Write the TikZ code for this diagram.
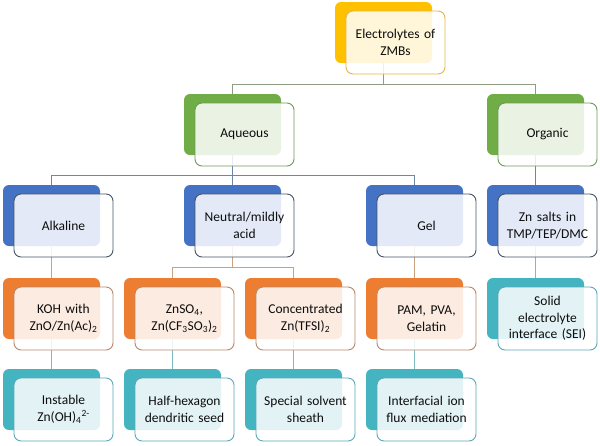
\documentclass[tikz,border=0pt]{standalone}
\usepackage{fontspec}
\setmainfont{Carlito}
\usetikzlibrary{positioning,backgrounds}

\definecolor{zyel}{HTML}{FFC000}
\definecolor{zyelb}{HTML}{E5B545}
\definecolor{zgrn}{HTML}{70AD47}
\definecolor{zgrnb}{HTML}{6F9A55}
\definecolor{zblu}{HTML}{4472C4}
\definecolor{zblub}{HTML}{465466}
\definecolor{zorg}{HTML}{ED7D31}
\definecolor{zorgb}{HTML}{B9876A}
\definecolor{ztea}{HTML}{44B4C0}
\definecolor{zteab}{HTML}{5BA9B6}
\definecolor{lgrn}{HTML}{8E9C82}
\definecolor{lblu}{HTML}{6E87A8}
\definecolor{lorg}{HTML}{C9A27F}
\definecolor{ltea}{HTML}{7FBAC0}

\tikzset{
  back/.style={rectangle, rounded corners=6pt, minimum width=97pt, minimum height=61pt,
    inner sep=0pt, outer sep=0pt, anchor=north west},
  front/.style={rectangle, rounded corners=7pt, line width=0.9pt, fill=white, fill opacity=0.85,
    text opacity=1, minimum width=99pt, minimum height=63pt, inner sep=2pt, outer sep=0pt,
    align=center, text width=95pt, text=black!95, font=\fontsize{13.5}{16.5}\selectfont},
  link/.style={line width=0.9pt}
}

% name, x, y, back colour, border colour, text
\newcommand{\zbox}[6]{%
  \node[back, fill=#4] (#1B) at (#2,#3) {};
  \node[front, draw=#5, below right=9pt and 11pt of #1B.north west] (#1) {#6};
}

\begin{document}
\begin{tikzpicture}[x=1pt,y=-1pt]
\useasboundingbox (0,0) rectangle (600,445);

% level 1 and 2
\zbox{top}{335}{2}{zyel}{zyelb}{Electrolytes of\\ZMBs}
\zbox{aq}{184}{94}{zgrn}{zgrnb}{Aqueous}
\zbox{org}{487}{94}{zgrn}{zgrnb}{Organic}

% level 3
\zbox{alk}{3}{185}{zblu}{zblub}{Alkaline}
\zbox{neu}{184}{185}{zblu}{zblub}{Neutral/mildly\\acid}
\zbox{gel}{366}{185}{zblu}{zblub}{Gel}
\zbox{zns}{487}{185}{zblu}{zblub}{Zn salts in\\TMP/TEP/DMC}

% level 4
\zbox{koh}{3}{278}{zorg}{zorgb}{KOH with\\ZnO/Zn(Ac)\textsubscript{2}}
\zbox{zso}{124}{278}{zorg}{zorgb}{ZnSO\textsubscript{4},\\Zn(CF\textsubscript{3}SO\textsubscript{3})\textsubscript{2}}
\zbox{con}{245}{278}{zorg}{zorgb}{Concentrated\\Zn(TFSI)\textsubscript{2}}
\zbox{pam}{366}{278}{zorg}{zorgb}{PAM, PVA,\\Gelatin}
\zbox{sei}{487}{278}{ztea}{zteab}{Solid\\electrolyte\\interface (SEI)}

% level 5
\zbox{ins}{3}{369}{ztea}{zteab}{Instable\\Zn(OH)\textsubscript{4}\textsuperscript{2-}}
\zbox{hal}{124}{369}{ztea}{zteab}{Half-hexagon\\dendritic seed}
\zbox{spe}{245}{369}{ztea}{zteab}{Special solvent\\sheath}
\zbox{int}{366}{369}{ztea}{zteab}{Interfacial ion\\flux mediation}

\begin{pgfonlayer}{background}
  \draw[link, lgrn] (topB.center) |- ([yshift=10pt]aqB.north) -- (aqB.north);
  \draw[link, lgrn] (topB.center) |- ([yshift=10pt]orgB.north) -- (orgB.north);
  \foreach \c in {alk,neu,gel}
    \draw[link, lblu] (aqB.center) |- ([yshift=10pt]\c B.north) -- (\c B.north);
  \draw[link, lblu] (orgB.center) -- (znsB.north);
  \draw[link, lorg] (alkB.center) -- (kohB.north);
  \foreach \c in {zso,con}
    \draw[link, lorg] (neuB.center) |- ([yshift=11pt]\c B.north) -- (\c B.north);
  \draw[link, lorg] (gelB.center) -- (pamB.north);
  \draw[link, ltea] (znsB.center) -- (seiB.north);
  \draw[link, ltea] (kohB.center) -- (insB.north);
  \draw[link, ltea] (zsoB.center) -- (halB.north);
  \draw[link, ltea] (conB.center) -- (speB.north);
  \draw[link, ltea] (pamB.center) -- (intB.north);
\end{pgfonlayer}
\end{tikzpicture}
\end{document}
